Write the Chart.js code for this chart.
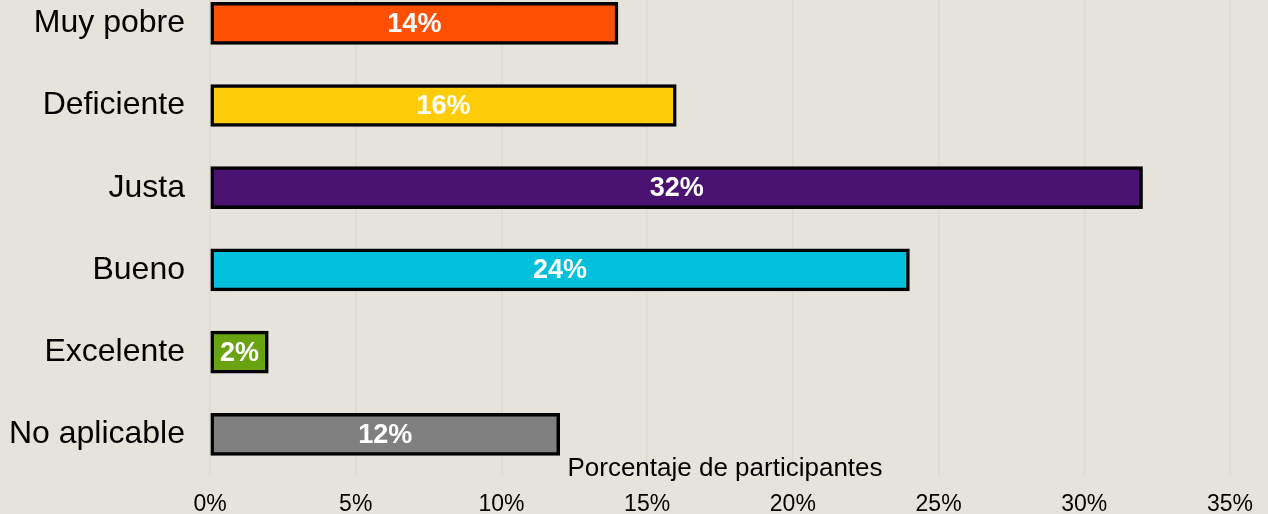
<!DOCTYPE html>
<html>
<head>
<meta charset="utf-8">
<script src="https://cdn.jsdelivr.net/npm/chart.js@4/dist/chart.umd.min.js"></script>
<style>
  html, body { margin: 0; padding: 0; background: #e6e3dc; overflow: hidden; }
  #wrap { position: absolute; left: 0; top: -54px; }
</style>
</head>
<body>
<div id="wrap"><canvas id="chart" width="1268" height="612"></canvas></div>
<script>
// categories and values (percent of participants)
const categories = ["Muy pobre", "Deficiente", "Justa", "Bueno", "Excelente", "No aplicable"];
const values = [14, 16, 32, 24, 2, 12];
const barColors = ["#ff4f00", "#ffcc0a", "#4a1270", "#00c0dc", "#6aa312", "#808080"];
const tickValues = [0, 5, 10, 15, 20, 25, 30, 35];
const axisTitle = "Porcentaje de participantes";

const FONT = "'Liberation Sans', Arial, sans-serif";

// white bold value labels in the middle of each bar
const valueLabels = {
    id: "valueLabels",
    afterDatasetsDraw(chart) {
        const ctx = chart.ctx;
        const meta = chart.getDatasetMeta(0);
        ctx.save();
        ctx.fillStyle = "#ffffff";
        ctx.font = "bold 27px " + FONT;
        ctx.textAlign = "center";
        ctx.textBaseline = "middle";
        meta.data.forEach((bar, i) => {
            const cx = (bar.x + bar.base) / 2;
            ctx.fillText(values[i] + "%", cx, bar.y + 1);
        });
        ctx.restore();
    }
};

// axis title sits inside the plot, just above the tick labels
const innerTitle = {
    id: "innerTitle",
    afterDraw(chart) {
        const ctx = chart.ctx;
        const area = chart.chartArea;
        ctx.save();
        ctx.fillStyle = "#000000";
        ctx.font = "26px " + FONT;
        ctx.textAlign = "center";
        ctx.textBaseline = "middle";
        ctx.fillText(axisTitle, (area.left + area.right) / 2 + 5, area.bottom - 7);
        ctx.restore();
    }
};

new Chart(document.getElementById("chart"), {
    type: "bar",
    data: {
        labels: categories,
        datasets: [{
            data: values,
            backgroundColor: barColors,
            borderColor: "#000000",
            borderWidth: 3.5,
            borderSkipped: false,
            barThickness: 42
        }]
    },
    options: {
        indexAxis: "y",
        responsive: false,
        animation: false,
        layout: { padding: { top: 0, right: 20, bottom: 25, left: 0 } },
        plugins: {
            legend: { display: false },
            tooltip: { enabled: false }
        },
        scales: {
            x: {
                min: 0,
                max: 35,
                afterBuildTicks(scale) {
                    scale.ticks = tickValues.map(v => ({ value: v }));
                },
                ticks: {
                    callback: v => v + "%",
                    color: "#000000",
                    font: { family: FONT, size: 23 },
                    padding: 15,
                    maxRotation: 0
                },
                grid: { color: "#dcdad6", lineWidth: 1.5, drawTicks: false },
                border: { display: false }
            },
            y: {
                afterFit(scale) { scale.width = 210; },
                ticks: {
                    color: "#000000",
                    font: { family: FONT, size: 32 },
                    padding: 17
                },
                grid: { display: false },
                border: { display: false }
            }
        }
    },
    plugins: [valueLabels, innerTitle]
});
</script>
</body>
</html>
